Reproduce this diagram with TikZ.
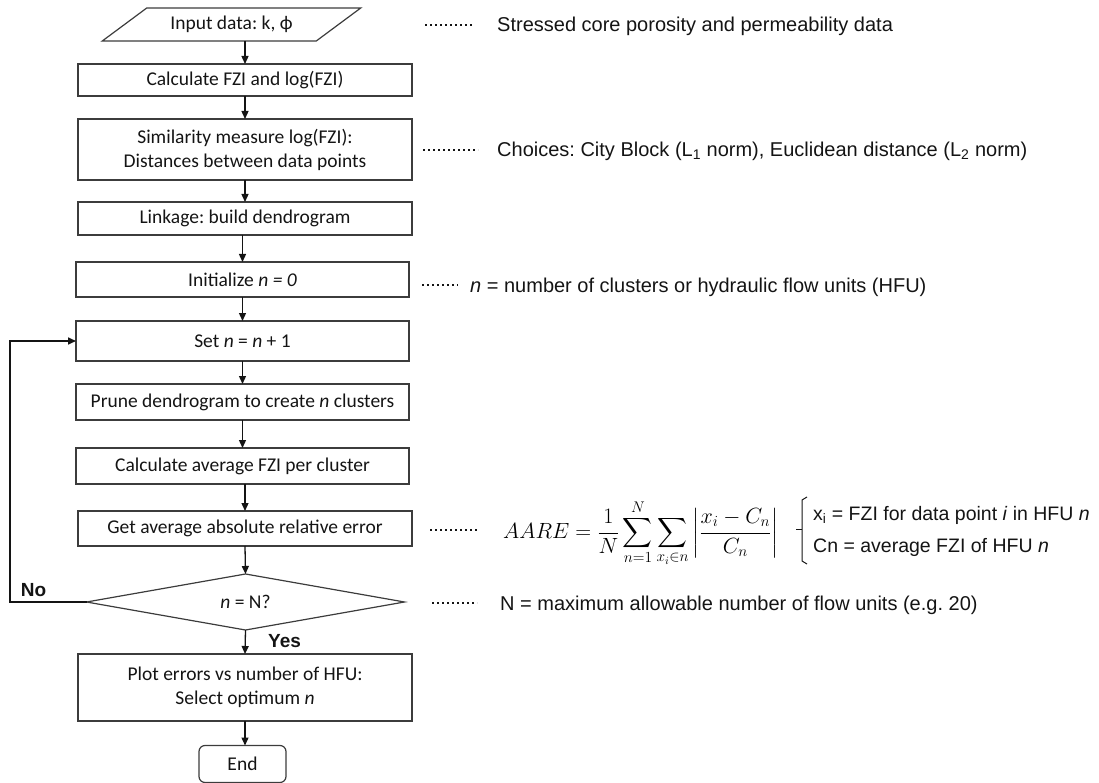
\RequirePackage{fix-cm}
\documentclass[tikz,border=0pt]{standalone}
\usepackage{amsmath}
\usepackage{fontspec}
\setmainfont{Carlito}
\newfontfamily\notefont{Liberation Sans}
\usetikzlibrary{arrows.meta,calc,positioning,shapes.geometric}
\definecolor{fcInk}{RGB}{20,20,20}
\definecolor{fcEdge}{RGB}{60,60,60}
\frenchspacing
\tikzset{
  fcBox/.style={draw=fcEdge,line width=1.2pt,minimum width=334pt,align=center,
    inner sep=2pt,outer sep=0pt,font=\fontsize{19.5}{24}\selectfont,text=fcInk},
  fcArrow/.style={-{Triangle[length=8pt,width=7pt]},line width=1.3pt,draw=fcInk},
  fcLeader/.style={line width=2.2pt,dash pattern=on 2pt off 3pt,draw=fcInk},
  fcNote/.style={anchor=base west,inner sep=0pt,
    font=\notefont\fontsize{20}{24}\selectfont,text=fcInk},
  fcTag/.style={inner sep=0pt,font=\notefont\bfseries\fontsize{19}{22}\selectfont,text=fcInk}
}

\begin{document}
\begin{tikzpicture}[x=1pt,y=-1pt]
  \useasboundingbox (0,0) rectangle (1099,783);
  % main column
  \node[fcBox,trapezium,trapezium left angle=32,trapezium right angle=148,
    trapezium stretches=true,minimum width=259pt,minimum height=33pt] (input) at (231.5,24.5) {Input data: k, ϕ};
  \node[fcBox,minimum height=32pt] (fzi) at (245,80) {Calculate FZI and log(FZI)};
  \node[fcBox,minimum height=61pt] (simil) at (245,149.5) {Similarity measure log(FZI):\\Distances between data points};
  \node[fcBox,minimum height=33pt] (link) at (245,218.5) {Linkage: build dendrogram};
  \node[fcBox,minimum width=333pt,minimum height=35pt] (init) at (242.5,279.5) {Initialize \textit{n = 0}};
  \node[fcBox,minimum width=333pt,minimum height=40pt] (setn) at (242.5,341) {Set \textit{n} = \textit{n} + 1};
  \node[fcBox,minimum width=333pt,minimum height=36pt] (prune) at (242.5,402) {Prune dendrogram to create \textit{n} clusters};
  \node[fcBox,minimum width=333pt,minimum height=36pt] (avg) at (242.5,466) {Calculate average FZI per cluster};
  \node[fcBox,minimum height=35pt] (aare) at (245,528.5) {Get average absolute relative error};
  \node[fcBox,diamond,aspect=5.7,minimum width=318pt,minimum height=56pt,inner sep=0pt] (check) at (245.5,602) {\textit{n} = N?};
  \node[fcBox,minimum height=67pt] (plot) at (245,687.5) {Plot errors vs number of HFU:\\Select optimum \textit{n}};
  \node[fcBox,minimum width=87pt,minimum height=37pt,rounded corners=6pt] (done) at (242.5,764) {End};

  \draw[fcArrow] (fzi.north |- input.south) -- (fzi.north);
  \draw[fcArrow] (fzi.south) -- (simil.north);
  \draw[fcArrow] (simil.south) -- (link.north);
  \draw[fcArrow] (init.north |- link.south) -- (init.north);
  \draw[fcArrow] (init.south) -- (setn.north);
  \draw[fcArrow] (setn.south) -- (prune.north);
  \draw[fcArrow] (prune.south) -- (avg.north);
  \draw[fcArrow] (aare.north |- avg.south) -- (aare.north);
  \draw[fcArrow] (aare.south) -- (check.north);
  \draw[fcArrow] (check.south) -- (plot.north);
  \draw[fcArrow] (plot.south) -- (plot.south |- done.north);

  % loop back
  \coordinate (loopTurn) at (10,602);
  \draw[fcArrow,line width=1.6pt] (check.west) -- (loopTurn) |- (setn.west);
  \node[fcTag] (noTag) at (33.5,590) {No};
  \node[fcTag,anchor=west] (yesTag) at (268,641) {Yes};

  % side notes
  \node[fcNote] (noteIn) at (497,32) {Stressed core porosity and permeability data};
  \node[fcNote] (noteDist) at (497,157) {Choices: City Block (L\textsubscript{1} norm), Euclidean distance (L\textsubscript{2} norm)};
  \node[fcNote] (noteN) at (470,292) {\textit{n} = number of clusters or hydraulic flow units (HFU)};
  \node[anchor=west,inner sep=0pt,font=\fontsize{22}{26}\selectfont] (formula) at (503,533)
    {$\displaystyle AARE=\frac{1}{N}\sum_{n=1}^{N}\sum_{x_i\in n}\left|\frac{x_i-C_n}{C_n}\right|$};
  \node[fcNote,font=\notefont\fontsize{19.5}{24}\selectfont] (legX) at (813,520) {x\textsubscript{i} = FZI for data point \textit{i} in HFU \textit{n}};
  \node[fcNote,font=\notefont\fontsize{19.5}{24}\selectfont] (legC) at (813,552) {Cn = average FZI of HFU \textit{n}};
  \node[fcNote] (noteMax) at (500,610) {N = maximum allowable number of flow units (e.g. 20)};

  \draw[fcLeader] ($(noteIn.base west)+(-72,-7)$) -- ++(48,0);
  \draw[fcLeader] ($(noteDist.base west)+(-74,-7)$) -- ++(55,0);
  \draw[fcLeader] ($(noteN.base west)+(-48,-7)$) -- ++(36,0);
  \draw[fcLeader] ($(formula.west)+(-73,-3)$) -- ++(47,0);
  \draw[fcLeader] ($(noteMax.base west)+(-68,-7)$) -- ++(45,0);
  \draw[line width=1pt,draw=fcInk] (807,497) -- (802,500) -- (802,561) -- (807,564);
  \draw[line width=1pt,draw=fcInk] (796,529) -- (802,529);
\end{tikzpicture}
\end{document}
